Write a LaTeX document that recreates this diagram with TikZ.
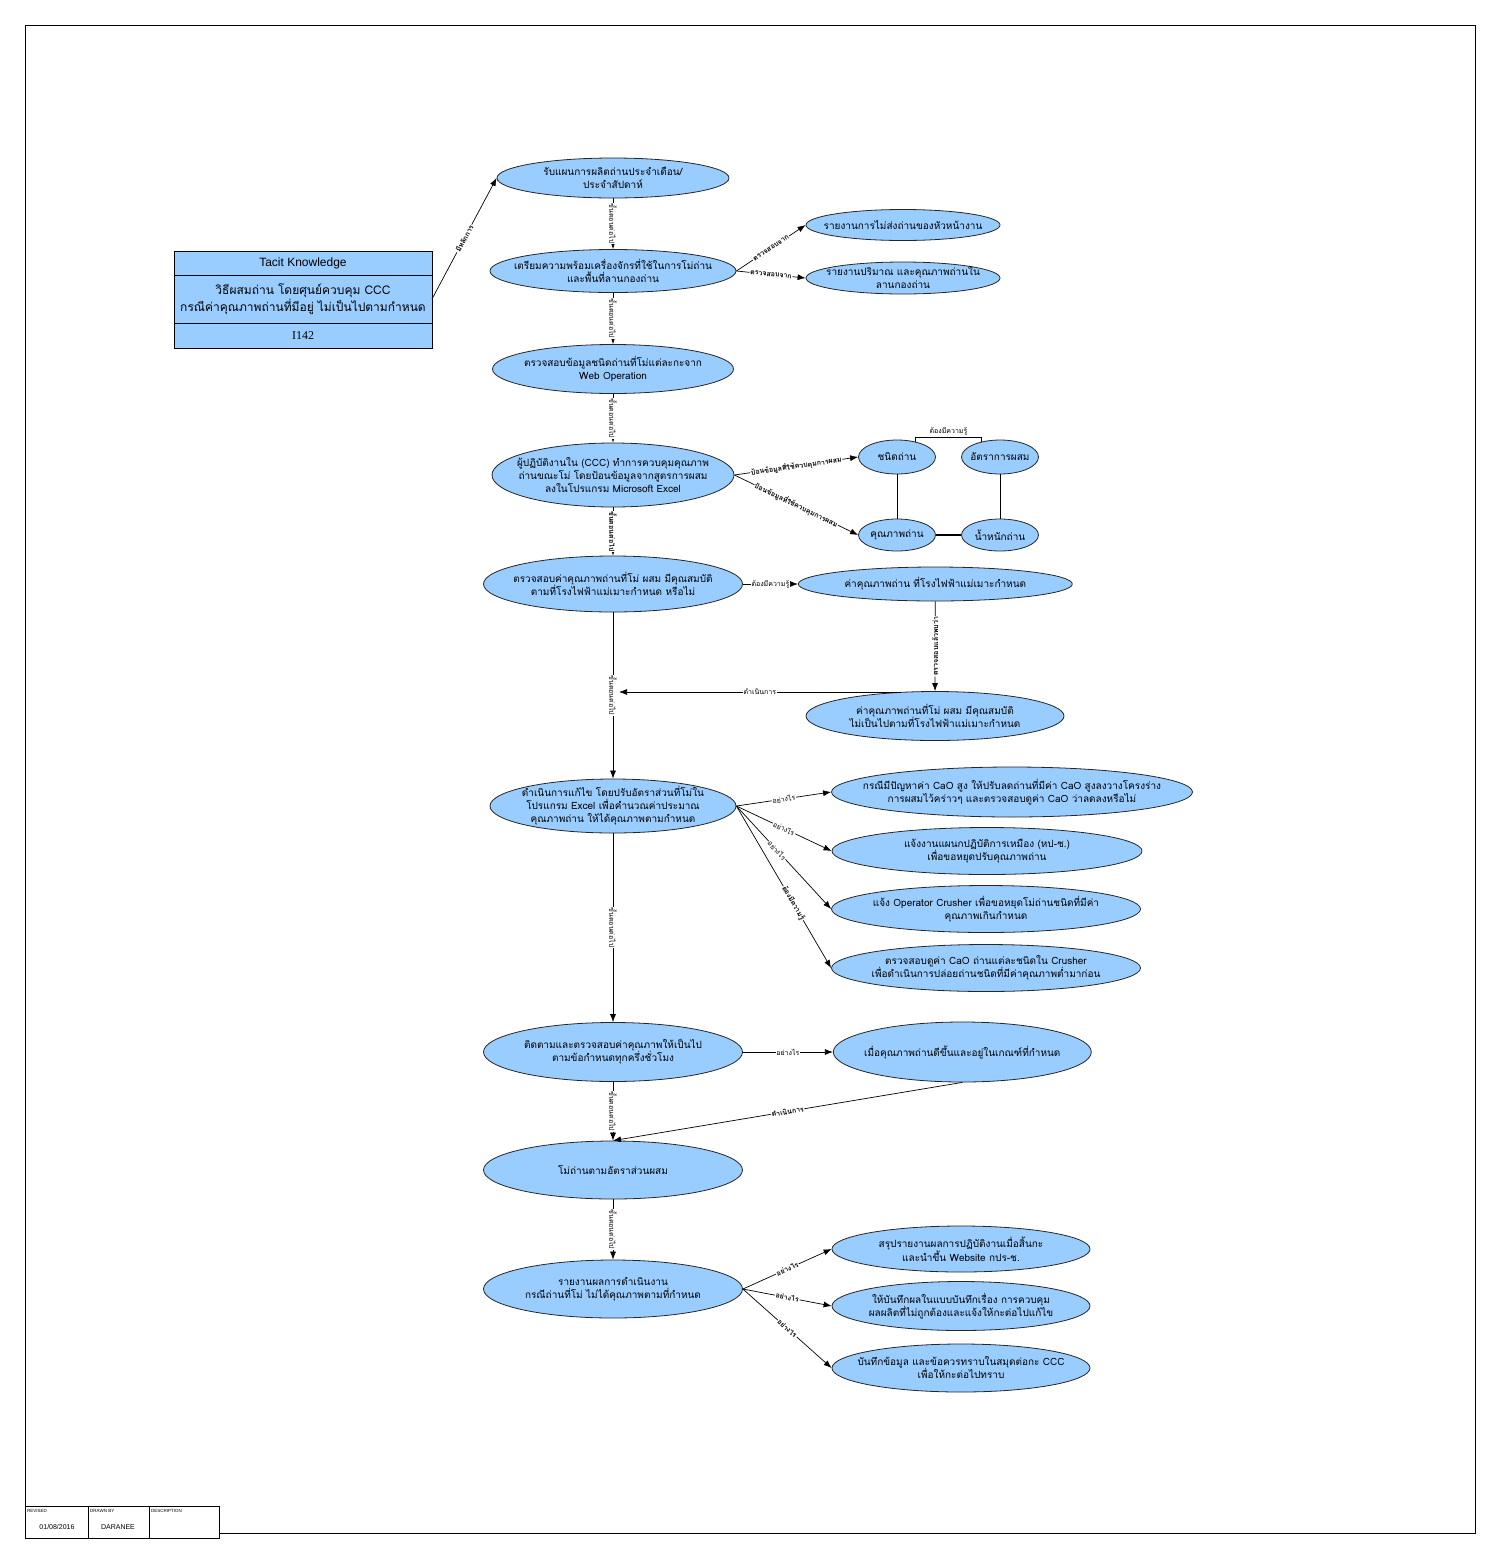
\documentclass[tikz,border=0pt]{standalone}
\usepackage{fontspec}
\setmainfont{Loma}[Script=Thai]
\newfontfamily\latinsans{Liberation Sans}
\newfontfamily\latinserif{Liberation Serif}
\usetikzlibrary{arrows.meta,positioning,shapes.geometric,calc}
\definecolor{kmblue}{RGB}{153,204,255}

\begin{document}
\begin{tikzpicture}[x=1pt, y=-1pt,
    topic/.style={ellipse, draw=black!85, fill=kmblue, line width=0.8pt, align=center, inner xsep=-70pt, inner ysep=-14pt, font=\fontsize{10}{13}\selectfont},
    tkbox/.style={rectangle, draw, fill=kmblue, line width=0.8pt, minimum width=258pt, align=center, inner sep=0pt, outer sep=0pt},
    lbl/.style={font=\fontsize{7}{8}\selectfont, fill=white, inner sep=0.8pt, sloped},
    lblb/.style={lbl, font=\bfseries\fontsize{7}{8}\selectfont},
    arrow/.style={-{Latex[length=8pt, width=6pt]}, line width=0.7pt},
    link/.style={line width=0.8pt},
    tiny/.style={font=\latinsans\fontsize{4.5}{5}\selectfont, anchor=west, inner sep=0pt},
    cell/.style={font=\latinsans\fontsize{7}{8}\selectfont, inner sep=0pt}
  ]
    \useasboundingbox (0,0) rectangle (1500,1559);
    \draw[line width=0.8pt] (25,25) rectangle (1475,1533);
    \draw[fill=white, line width=0.8pt] (25,1506) rectangle (219,1538);
    \draw[line width=0.8pt] (88,1506) -- (88,1538) (149,1506) -- (149,1538);
    \node[tiny] (rev) at (27,1511) {REVISED};
    \node[tiny] (drawn) at (90,1511) {DRAWN BY};
    \node[tiny] (desc) at (151,1511) {DESCRIPTION};
    \node[cell] (revdate) at (57,1527) {01/08/2016};
    \node[cell] (drawer) at (118,1527) {DARANEE};

    \node[tkbox, minimum height=24pt, font=\latinsans\fontsize{12}{14}\selectfont] (tkhead) at (303,263) {Tacit Knowledge};
    \node[tkbox, minimum height=48pt, font=\fontsize{12}{15}\selectfont, below=0pt of tkhead] (tkbody) {วิธีผสมถ่าน โดยศุนย์ควบคุม CCC\\กรณีค่าคุณภาพถ่านที่มีอยู่ ไม่เป็นไปตามกำหนด};
    \node[tkbox, minimum height=25pt, font=\latinserif\fontsize{12}{14}\selectfont, below=0pt of tkbody] (tkcode) {I142};

    \node[topic, minimum width=232pt, minimum height=40pt] (n1) at (613,178) {รับแผนการผลิตถ่านประจำเดือน/\\ประจำสัปดาห์};
    \node[topic, minimum width=246pt, minimum height=43pt] (n2) at (613,271) {เตรียมความพร้อมเครื่องจักรที่ใช้ในการโม่ถ่าน\\และพื้นที่ลานกองถ่าน};
    \node[topic, minimum width=241pt, minimum height=49pt] (n3) at (613,369) {ตรวจสอบข้อมูลชนิดถ่านที่โม่แต่ละกะจาก\\Web Operation};
    \node[topic, minimum width=242pt, minimum height=64pt] (n4) at (613,475) {ผู้ปฏิบัติงานใน (CCC) ทำการควบคุมคุณภาพ\\ถ่านขณะโม่ โดยป้อนข้อมูลจากสูตรการผสม\\ลงในโปรแกรม Microsoft Excel};
    \node[topic, minimum width=259pt, minimum height=56pt] (n5) at (613,584) {ตรวจสอบค่าคุณภาพถ่านที่โม่ ผสม มีคุณสมบัติ\\ตามที่โรงไฟฟ้าแม่เมาะกำหนด หรือไม่};
    \node[topic, minimum width=246pt, minimum height=54pt] (n6) at (613,806) {ดำเนินการแก้ไข โดยปรับอัตราส่วนที่โม่ใน\\โปรแกรม Excel เพื่อคำนวณค่าประมาณ\\คุณภาพถ่าน ให้ได้คุณภาพตามกำหนด};
    \node[topic, minimum width=259pt, minimum height=59pt] (n7) at (613,1052) {ติดตามและตรวจสอบค่าคุณภาพให้เป็นไป\\ตามข้อกำหนดทุกครึ่งชั่วโมง};
    \node[topic, minimum width=259pt, minimum height=58pt] (n8) at (613,1170) {โม่ถ่านตามอัตราส่วนผสม};
    \node[topic, minimum width=259pt, minimum height=58pt] (n9) at (613,1289) {รายงานผลการดำเนินงาน\\กรณีถ่านที่โม่ ไม่ได้คุณภาพตามที่กำหนด};

    \node[topic, minimum width=194pt, minimum height=31pt] (r1) at (903,225) {รายงานการไม่ส่งถ่านของหัวหน้างาน};
    \node[topic, minimum width=194pt, minimum height=32pt] (r2) at (903,278) {รายงานปริมาณ และคุณภาพถ่านใน\\ลานกองถ่าน};
    \node[topic, minimum width=77pt, minimum height=34pt] (k1) at (897,457) {ชนิดถ่าน};
    \node[topic, minimum width=77pt, minimum height=34pt] (k2) at (1000,457) {อัตราการผสม};
    \node[topic, minimum width=77pt, minimum height=32pt] (k3) at (897,535) {คุณภาพถ่าน};
    \node[topic, minimum width=77pt, minimum height=32pt] (k4) at (1000,535) {น้ำหนักถ่าน};
    \node[topic, minimum width=274pt, minimum height=34pt, right=55pt of n5] (q1) {ค่าคุณภาพถ่าน ที่โรงไฟฟ้าแม่เมาะกำหนด};
    \node[topic, minimum width=258pt, minimum height=49pt] (q2) at (935,716) {ค่าคุณภาพถ่านที่โม่ ผสม มีคุณสมบัติ\\ไม่เป็นไปตามที่โรงไฟฟ้าแม่เมาะกำหนด};
    \node[topic, minimum width=361pt, minimum height=50pt] (a1) at (1012,792) {กรณีมีปัญหาค่า CaO สูง ให้ปรับลดถ่านที่มีค่า CaO สูงลงวางโครงร่าง\\การผสมไว้คร่าวๆ และตรวจสอบดูค่า CaO ว่าลดลงหรือไม่};
    \node[topic, minimum width=310pt, minimum height=47pt] (a2) at (987,851) {แจ้งงานแผนกปฏิบัติการเหมือง (หป-ช.)\\เพื่อขอหยุดปรับคุณภาพถ่าน};
    \node[topic, minimum width=309pt, minimum height=47pt] (a3) at (986,909) {แจ้ง Operator Crusher เพื่อขอหยุดโม่ถ่านชนิดที่มีค่า\\คุณภาพเกินกำหนด};
    \node[topic, minimum width=309pt, minimum height=47pt] (a4) at (986,968) {ตรวจสอบดูค่า CaO ถ่านแต่ละชนิดใน Crusher\\เพื่อดำเนินการปล่อยถ่านชนิดที่มีค่าคุณภาพต่ำมาก่อน};
    \node[topic, minimum width=258pt, minimum height=60pt, right=90pt of n7] (b1) {เมื่อคุณภาพถ่านดีขึ้นและอยู่ในเกณฑ์ที่กำหนด};
    \node[topic, minimum width=258pt, minimum height=46pt] (c1) at (961,1249) {สรุปรายงานผลการปฏิบัติงานเมื่อสิ้นกะ\\และนำขึ้น Website กปร-ช.};
    \node[topic, minimum width=258pt, minimum height=49pt] (c2) at (961,1306) {ให้บันทึกผลในแบบบันทึกเรื่อง การควบคุม\\ผลผลิตที่ไม่ถูกต้องและแจ้งให้กะต่อไปแก้ไข};
    \node[topic, minimum width=258pt, minimum height=48pt] (c3) at (961,1368) {บันทึกข้อมูล และข้อควรทราบในสมุดต่อกะ CCC\\เพื่อให้กะต่อไปทราบ};
    \coordinate (j1) at (619,692);

    \draw[arrow] (tkbody.east) -- node[lblb] {มีหลักการ} (n1.west);
    \draw[arrow] (n1) -- node[lbl] {ขั้นตอนต่อไป} (n2);
    \draw[arrow] (n2) -- node[lbl] {ขั้นตอนต่อไป} (n3);
    \draw[arrow] (n3) -- node[lbl] {ขั้นตอนต่อไป} (n4);
    \draw[arrow] (n4) -- node[lblb] {ขั้นตอนต่อไป} (n5);
    \draw[arrow] (n5) -- node[lbl] {ขั้นตอนต่อไป} (n6);
    \draw[arrow] (n6) -- node[lbl] {ขั้นตอนต่อไป} (n7);
    \draw[arrow] (n7) -- node[lbl] {ขั้นตอนต่อไป} (n8);
    \draw[arrow] (n8) -- node[lbl] {ขั้นตอนต่อไป} (n9);
    \draw[arrow] (n2.east) -- node[lblb] {ตรวจสอบจาก} (r1.west);
    \draw[arrow] (n2.east) -- node[lblb] {ตรวจสอบจาก} (r2.west);
    \draw[arrow] (n4.east) -- node[lblb] {ป้อนข้อมูลที่ใช้ควบคุมการผสม} (k1.west);
    \draw[arrow] (n4.east) -- node[lblb] {ป้อนข้อมูลที่ใช้ควบคุมการผสม} (k3.west);
    \draw[link] (k1) -- (k3);
    \draw[link] (k2) -- (k4);
    \draw[line width=1.6pt] (k3) -- (k4);
    \draw[link] (k1.40) -- ++(0,-4) -| node[pos=0.25, above=2pt, font=\fontsize{7}{8}\selectfont, inner sep=0pt] {ต้องมีความรู้} (k2.140);
    \draw[arrow] (n5.east) -- node[lbl] {ต้องมีความรู้} (q1.west);
    \draw[arrow] (q1.south) -- node[lblb] {ตรวจสอบแล้วพบว่า} (q2.north);
    \draw[arrow] (q2.145) -- node[lbl] {ดำเนินการ} (j1 |- q2.145);
    \draw[arrow] (n6.east) -- node[lbl] {อย่างไร} (a1.west);
    \draw[arrow] (n6.east) -- node[lbl] {อย่างไร} (a2.west);
    \draw[arrow] (n6.east) -- node[lbl, pos=0.43] {อย่างไร} (a3.west);
    \draw[arrow] (n6.east) -- node[lblb, pos=0.6] {ต้องมีความรู้} (a4.west);
    \draw[arrow] (n7.east) -- node[lbl] {อย่างไร} (b1.west);
    \draw[arrow] (b1.south) -- node[lblb] {ดำเนินการ} (n8.north);
    \draw[arrow] (n9.east) -- node[lblb] {อย่างไร} (c1.west);
    \draw[arrow] (n9.east) -- node[lblb] {อย่างไร} (c2.west);
    \draw[arrow] (n9.east) -- node[lblb] {อย่างไร} (c3.west);
  \end{tikzpicture}
\end{document}
